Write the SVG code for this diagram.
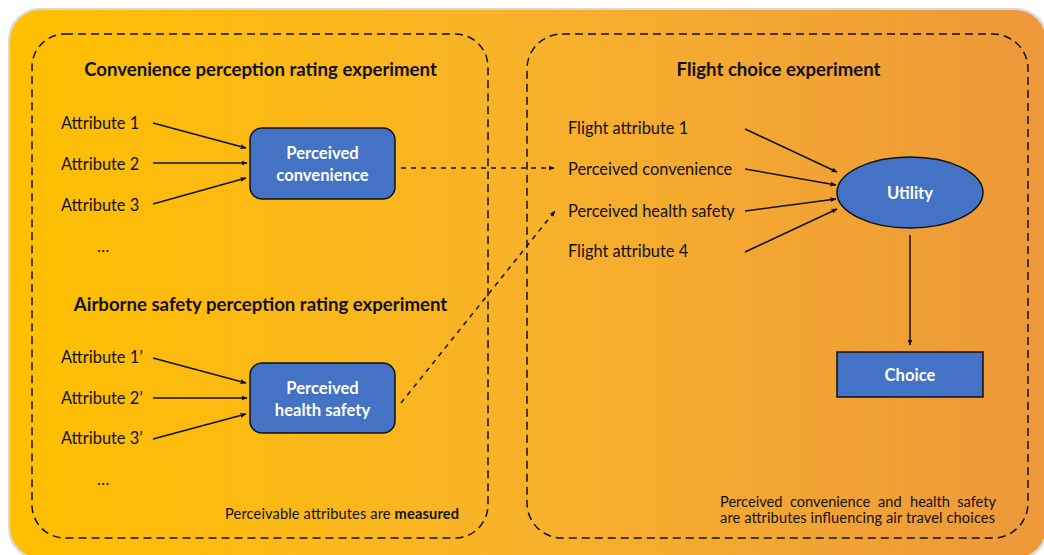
<svg xmlns="http://www.w3.org/2000/svg" width="1044" height="555" viewBox="0 0 1044 555">
  <defs>
    <linearGradient id="bgGrad" x1="0" y1="0" x2="1" y2="0">
      <stop offset="0" stop-color="#FFC000"/>
      <stop offset="0.5" stop-color="#F8B22A"/>
      <stop offset="1" stop-color="#ED983A"/>
    </linearGradient>
    <marker id="arrow" viewBox="0 0 10 10" refX="9" refY="5" markerWidth="6" markerHeight="6" orient="auto" markerUnits="userSpaceOnUse">
      <path d="M0,1 L10,5 L0,9 z" fill="#111"/>
    </marker>
    <style>
      .txt { font-family: Lato, "Open Sans", sans-serif; font-size: 16.4px; fill: #111; }
      .title { font-family: Lato, "Open Sans", sans-serif; font-size: 18.6px; font-weight: bold; fill: #111; text-anchor: middle; }
      .note { font-family: Lato, "Open Sans", sans-serif; font-size: 14.6px; fill: #111; }
      .label { font-family: Lato, "Open Sans", sans-serif; font-size: 16.6px; font-weight: bold; fill: #fff; text-anchor: middle; }
      .node { fill: #4472C4; stroke: #111; stroke-width: 1.5; }
      .frame { fill: none; stroke: #111; stroke-width: 1.5; stroke-dasharray: 8 5; }
      .link { fill: none; stroke: #111; stroke-width: 1.5; marker-end: url(#arrow); }
      .dlink { fill: none; stroke: #111; stroke-width: 1.5; stroke-dasharray: 5 5; marker-end: url(#arrow); }
    </style>
  </defs>

  <!-- background panel -->
  <rect x="8" y="8" width="1040" height="552" rx="32" fill="#D8D8D8"/>
  <rect x="10" y="10" width="1036" height="548" rx="31" fill="url(#bgGrad)"/>

  <!-- experiment frames -->
  <g id="frame-convenience">
    <rect class="frame" x="32" y="34" width="456" height="504" rx="33"/>
    <text class="title" x="260.5" y="76">Convenience perception rating experiment</text>
  </g>
  <g id="frame-safety">
    <text class="title" x="260.5" y="311">Airborne safety perception rating experiment</text>
    <text class="note" x="225" y="519" textLength="234" lengthAdjust="spacing">Perceivable attributes are <tspan font-weight="bold">measured</tspan></text>
  </g>
  <g id="frame-choice">
    <rect class="frame" x="527" y="34" width="501" height="504" rx="35"/>
    <text class="title" x="778.5" y="76">Flight choice experiment</text>
    <text class="note" y="507"><tspan x="720">Perceived</tspan><tspan x="790">convenience</tspan><tspan x="878">and</tspan><tspan x="910">health</tspan><tspan x="996" text-anchor="end">safety</tspan></text>
    <text class="note" x="720" y="523" textLength="275" lengthAdjust="spacing">are attributes influencing air travel choices</text>
  </g>

  <!-- attribute lists -->
  <g id="conv-attributes">
    <text class="txt" x="61" y="129">Attribute 1</text>
    <text class="txt" x="61" y="170">Attribute 2</text>
    <text class="txt" x="61" y="211">Attribute 3</text>
    <text class="txt" x="97" y="252">…</text>
  </g>
  <g id="safety-attributes">
    <text class="txt" x="61" y="363">Attribute 1’</text>
    <text class="txt" x="61" y="404">Attribute 2’</text>
    <text class="txt" x="61" y="444">Attribute 3’</text>
    <text class="txt" x="97" y="485">…</text>
  </g>
  <g id="flight-attributes">
    <text class="txt" x="568" y="134">Flight attribute 1</text>
    <text class="txt" x="568" y="175">Perceived convenience</text>
    <text class="txt" x="568" y="217">Perceived health safety</text>
    <text class="txt" x="568" y="257">Flight attribute 4</text>
  </g>

  <!-- nodes -->
  <g id="perceived-convenience">
    <rect class="node" x="250" y="128" width="145" height="71" rx="12"/>
    <text class="label" x="322.5" y="159">Perceived</text>
    <text class="label" x="322.5" y="181">convenience</text>
  </g>
  <g id="perceived-health-safety">
    <rect class="node" x="250" y="363" width="145" height="70" rx="12"/>
    <text class="label" x="322.5" y="394">Perceived</text>
    <text class="label" x="322.5" y="416">health safety</text>
  </g>
  <g id="utility">
    <ellipse class="node" cx="910" cy="192.5" rx="73" ry="35.5"/>
    <text class="label" x="910" y="199">Utility</text>
  </g>
  <g id="choice">
    <rect class="node" x="837" y="352" width="146" height="45"/>
    <text class="label" x="910" y="381">Choice</text>
  </g>

  <!-- connectors -->
  <g id="connectors">
    <line class="link" x1="153" y1="123" x2="246" y2="148"/>
    <line class="link" x1="153" y1="163" x2="247" y2="163"/>
    <line class="link" x1="153" y1="204" x2="246" y2="178"/>
    <line class="link" x1="153" y1="358" x2="246" y2="383"/>
    <line class="link" x1="153" y1="398" x2="247" y2="398"/>
    <line class="link" x1="153" y1="439" x2="246" y2="414"/>
    <line class="dlink" x1="401" y1="168" x2="554" y2="168"/>
    <line class="dlink" x1="401" y1="403" x2="555" y2="211"/>
    <line class="link" x1="745" y1="129" x2="837" y2="172"/>
    <line class="link" x1="745" y1="169" x2="836" y2="185"/>
    <line class="link" x1="745" y1="211" x2="836" y2="199"/>
    <line class="link" x1="745" y1="252" x2="837" y2="209"/>
    <line class="link" x1="910" y1="235" x2="910" y2="345"/>
  </g>
</svg>
